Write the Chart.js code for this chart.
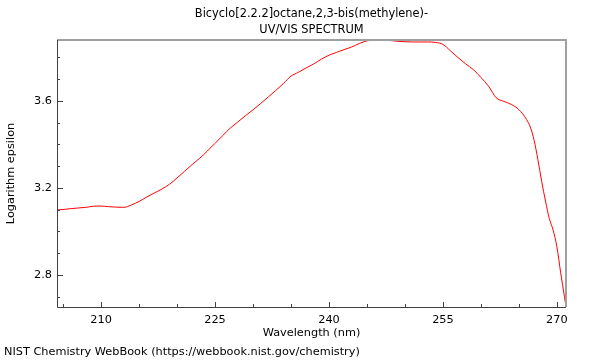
<!DOCTYPE html>
<html><head><meta charset="utf-8">
<script src="https://cdn.jsdelivr.net/npm/chart.js@4/dist/chart.umd.min.js"></script>
<style>
html,body{margin:0;padding:0;background:#fff;}
#wrap{position:relative;width:600px;height:360px;}
#footer{position:absolute;left:4px;top:345px;font:11.3px "DejaVu Sans";color:#000;white-space:nowrap;}
</style></head><body>
<div id="wrap"><canvas id="c" width="600" height="360"></canvas><div id="footer">NIST Chemistry WebBook (https://webbook.nist.gov/chemistry)</div></div>
<script>
const titleLines = ['Bicyclo[2.2.2]octane,2,3-bis(methylene)-', 'UV/VIS SPECTRUM'];
const xAxisTitle = 'Wavelength (nm)';
const yAxisTitle = 'Logarithm epsilon';
const wavelengths = [204.2,205,206,207,208,209,210,211,212,213,214,215,216,217,218,219,220,221,222,223,224,225,226,227,228,229,230,231,232,233,234,235,236,237,238,239,240,241,242,243,244,245,246,247,248,249,250,251,252,253,254,255,256,257,258,259,260,261,262,263,264,265,266,266.5,267,267.5,268,268.5,269,269.5,270,270.5,271,271.2];
const logEpsilon = [3.099,3.101,3.105,3.108,3.111,3.116,3.117,3.114,3.112,3.111,3.122,3.138,3.158,3.177,3.195,3.217,3.246,3.277,3.308,3.337,3.370,3.405,3.440,3.475,3.503,3.532,3.559,3.588,3.618,3.648,3.680,3.714,3.732,3.752,3.770,3.792,3.810,3.823,3.836,3.848,3.864,3.876,3.880,3.880,3.878,3.874,3.872,3.871,3.871,3.871,3.869,3.860,3.830,3.799,3.770,3.744,3.708,3.668,3.615,3.598,3.584,3.560,3.515,3.480,3.420,3.330,3.230,3.140,3.060,3.007,2.930,2.810,2.700,2.654];
const xTickLabels = [210,225,240,255,270];
const yTickLabels = [2.8,3.2,3.6];
const xMinorTicks = [205,215,220,230,235,245,250,260,265];
const yMinorTicks = [2.7,2.9,3.0,3.1,3.3,3.4,3.5,3.7,3.8];
const xRange = [204.2,271.2];
const yRange = [2.653,3.88];

Chart.defaults.font.family = 'DejaVu Sans';
Chart.defaults.font.size = 11.3;
Chart.defaults.color = '#000';

const titlePlugin = {
  id: 'topTitle',
  afterDraw(chart) {
    const {ctx, chartArea: a} = chart;
    ctx.save();
    ctx.font = '11.4px "DejaVu Sans"';
    ctx.fillStyle = '#000';
    ctx.textAlign = 'center';
    ctx.textBaseline = 'middle';
    const cx = (a.left + a.right) / 2;
    titleLines.forEach((t, i) => ctx.fillText(t, cx, 14 + i * 16));
    ctx.restore();
  }
};

const framePlugin = {
  id: 'frame',
  afterDraw(chart) {
    const {ctx, chartArea: a, scales: {x, y}} = chart;
    ctx.save();
    ctx.lineWidth = 2;
    ctx.strokeStyle = '#a0a0a0';
    ctx.beginPath();
    ctx.moveTo(a.left, a.top); ctx.lineTo(a.right, a.top); ctx.lineTo(a.right, a.bottom);
    ctx.stroke();
    ctx.lineWidth = 1;
    ctx.strokeStyle = '#404040';
    ctx.beginPath();
    ctx.moveTo(a.left + 0.5, a.top); ctx.lineTo(a.left + 0.5, a.bottom + 0.5); ctx.lineTo(a.right, a.bottom + 0.5);
    ctx.stroke();
    ctx.beginPath();
    xTickLabels.forEach(v => { const px = Math.round(x.getPixelForValue(v)) + 0.5; ctx.moveTo(px, a.bottom); ctx.lineTo(px, a.bottom - 5); });
    xMinorTicks.forEach(v => { const px = Math.round(x.getPixelForValue(v)) + 0.5; ctx.moveTo(px, a.bottom); ctx.lineTo(px, a.bottom - 3); });
    yTickLabels.forEach(v => { const py = Math.round(y.getPixelForValue(v)) + 0.5; ctx.moveTo(a.left, py); ctx.lineTo(a.left + 6, py); });
    yMinorTicks.forEach(v => { const py = Math.round(y.getPixelForValue(v)) + 0.5; ctx.moveTo(a.left, py); ctx.lineTo(a.left + 3, py); });
    ctx.stroke();
    ctx.restore();
  }
};

new Chart(document.getElementById('c'), {
  type: 'line',
  data: {
    datasets: [{
      data: wavelengths.map((w, i) => ({x: w, y: logEpsilon[i]})),
      borderColor: '#ff0000',
      borderWidth: 1,
      pointRadius: 0,
      cubicInterpolationMode: 'monotone',
      fill: false,
      clip: false
    }]
  },
  options: {
    responsive: false,
    animation: false,
    events: [],
    layout: {padding: {left: 0, right: 34, top: 40, bottom: 20}},
    plugins: {
      legend: {display: false},
      tooltip: {enabled: false},
      title: {display: false}
    },
    scales: {
      x: {
        type: 'linear', min: xRange[0], max: xRange[1],
        afterBuildTicks: s => { s.ticks = xTickLabels.map(v => ({value: v})); },
        afterFit: s => { s.height = 33; },
        grid: {display: false, drawTicks: false},
        border: {display: false},
        ticks: {padding: 6, color: '#000', maxRotation: 0, callback: v => String(v)},
        title: {display: true, text: xAxisTitle, color: '#000', padding: {top: 0, bottom: 0}}
      },
      y: {
        type: 'linear', min: yRange[0], max: yRange[1],
        afterBuildTicks: s => { s.ticks = yTickLabels.map(v => ({value: v})); },
        afterFit: s => { s.width = 57; },
        grid: {display: false, drawTicks: false},
        border: {display: false},
        ticks: {padding: 5, color: '#000', callback: v => Number(v).toFixed(1)},
        title: {display: true, text: yAxisTitle, color: '#000', padding: {top: 4, bottom: 0}}
      }
    }
  },
  plugins: [framePlugin, titlePlugin]
});
</script>
</body></html>
